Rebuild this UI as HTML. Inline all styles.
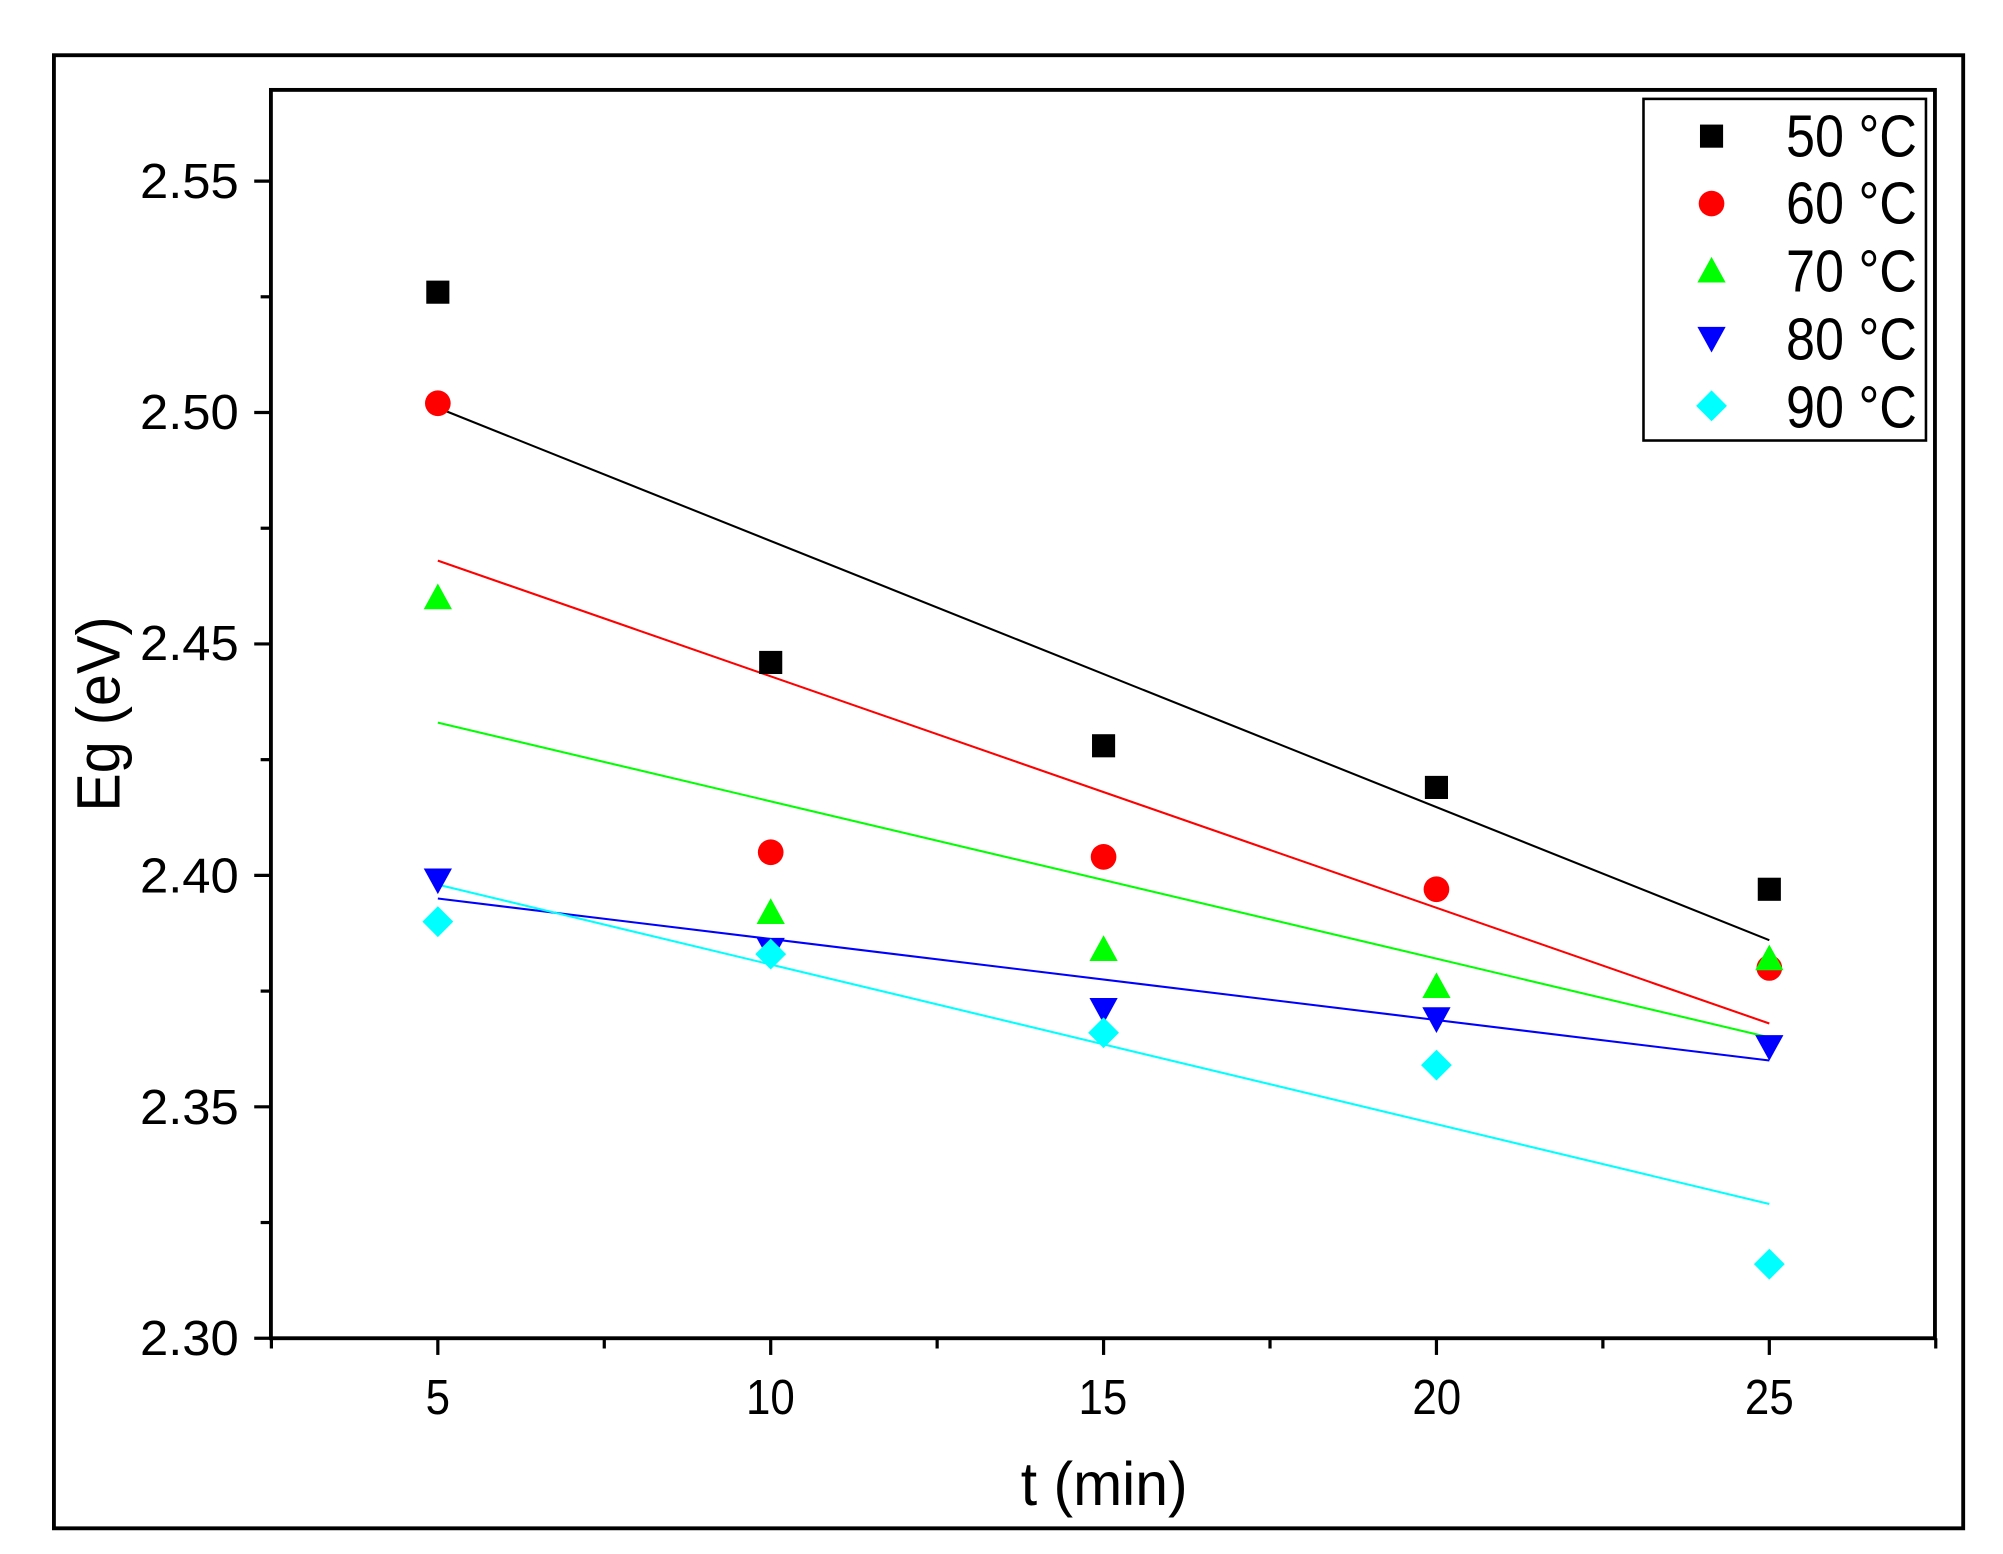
<!DOCTYPE html>
<html><head><meta charset="utf-8"><style>
html,body{margin:0;padding:0;background:#fff;width:2003px;height:1554px;overflow:hidden}
svg{display:block}
text{font-family:"Liberation Sans",sans-serif;fill:#000}
</style></head><body>
<svg id="s" width="2003" height="1554" viewBox="0 0 1560 1210" preserveAspectRatio="none" xmlns="http://www.w3.org/2000/svg">
<rect x="0" y="0" width="1560" height="1210" fill="#fff"/>
<rect x="42" y="43" width="1487" height="1147" fill="none" stroke="#000" stroke-width="3"/>
<rect x="211" y="70" width="1296" height="972" fill="none" stroke="#000" stroke-width="3"/>
<g id="ticks" stroke="#000" stroke-width="2.5"></g>
<g font-size="38" text-anchor="end" lengthAdjust="spacingAndGlyphs">
<text x="186" y="1055" textLength="77" lengthAdjust="spacingAndGlyphs">2.30</text>
<text x="186" y="875" textLength="77" lengthAdjust="spacingAndGlyphs">2.35</text>
<text x="186" y="695" textLength="77" lengthAdjust="spacingAndGlyphs">2.40</text>
<text x="186" y="514" textLength="77" lengthAdjust="spacingAndGlyphs">2.45</text>
<text x="186" y="334" textLength="77" lengthAdjust="spacingAndGlyphs">2.50</text>
<text x="186" y="154" textLength="77" lengthAdjust="spacingAndGlyphs">2.55</text>
</g>
<g font-size="38" text-anchor="middle">
<text x="341" y="1101" textLength="19" lengthAdjust="spacingAndGlyphs">5</text>
<text x="600" y="1101" textLength="38" lengthAdjust="spacingAndGlyphs">10</text>
<text x="859" y="1101" textLength="38" lengthAdjust="spacingAndGlyphs">15</text>
<text x="1119" y="1101" textLength="38" lengthAdjust="spacingAndGlyphs">20</text>
<text x="1378" y="1101" textLength="38" lengthAdjust="spacingAndGlyphs">25</text>
</g>
<text x="860" y="1172" font-size="48" text-anchor="middle" textLength="130" lengthAdjust="spacingAndGlyphs">t (min)</text>
<text transform="translate(93,556) rotate(-90)" font-size="48" text-anchor="middle" textLength="152" lengthAdjust="spacingAndGlyphs">Eg (eV)</text>
<g id="lines" stroke-width="1.6"></g>
<g id="pts"></g>
<rect x="1280" y="77" width="220" height="266" fill="#fff" stroke="#000" stroke-width="2"/>
<g font-size="46">
<text x="1391" y="122" textLength="102" lengthAdjust="spacingAndGlyphs">50 °C</text>
<text x="1391" y="174" textLength="102" lengthAdjust="spacingAndGlyphs">60 °C</text>
<text x="1391" y="227" textLength="102" lengthAdjust="spacingAndGlyphs">70 °C</text>
<text x="1391" y="280" textLength="102" lengthAdjust="spacingAndGlyphs">80 °C</text>
<text x="1391" y="333" textLength="102" lengthAdjust="spacingAndGlyphs">90 °C</text>
</g>
<g id="leg"></g>
</svg>
<script>
const NS="http://www.w3.org/2000/svg";
const X=t=>341+(t-5)*51.85, Y=v=>1042-(v-2.30)*3604;
function el(p,tag,a){const e=document.createElementNS(NS,tag);for(const k in a)e.setAttribute(k,a[k]);document.getElementById(p).appendChild(e);return e;}
for(let i=0;i<=10;i++){const v=2.30+i*0.025;const y=Y(v);if(y<70)break;el('ticks','line',{x1:211,x2:i%2?203:198,y1:y,y2:y});}
for(let t=2.5;t<=27.5;t+=2.5){const x=X(t);el('ticks','line',{x1:x,x2:x,y1:1042,y2:(t%5==0)?1055:1050});}
function marker(g,type,x,y,c){
 if(type=='s')el(g,'rect',{x:x-9,y:y-9,width:18,height:18,fill:c});
 else if(type=='c')el(g,'circle',{cx:x,cy:y,r:10,fill:c});
 else if(type=='u')el(g,'polygon',{points:`${x},${y-11} ${x-11},${y+9} ${x+11},${y+9}`,fill:c});
 else if(type=='d')el(g,'polygon',{points:`${x-11},${y-9} ${x+11},${y-9} ${x},${y+11}`,fill:c});
 else el(g,'polygon',{points:`${x},${y-12} ${x+12},${y} ${x},${y+12} ${x-12},${y}`,fill:c});
}
const S=[
 ['s','#000',[2.526,2.446,2.428,2.419,2.397],[2.501,2.386]],
 ['c','#f00',[2.502,2.405,2.404,2.397,2.380],[2.468,2.368]],
 ['u','#0f0',[2.460,2.392,2.384,2.376,2.382],[2.433,2.365]],
 ['d','#00f',[2.399,2.384,2.371,2.369,2.363],[2.395,2.360]],
 ['r','#0ff',[2.390,2.383,2.366,2.359,2.316],[2.398,2.329]]
];
S.forEach((s,i)=>{
 el('lines','line',{x1:X(5),y1:Y(s[3][0]),x2:X(25),y2:Y(s[3][1]),stroke:s[1]});
 s[2].forEach((v,j)=>marker('pts',s[0],X(5+5*j),Y(v),s[1]));
 marker('leg',s[0],1333,106+i*52.5,s[1]);
});
</script>
</body></html>
